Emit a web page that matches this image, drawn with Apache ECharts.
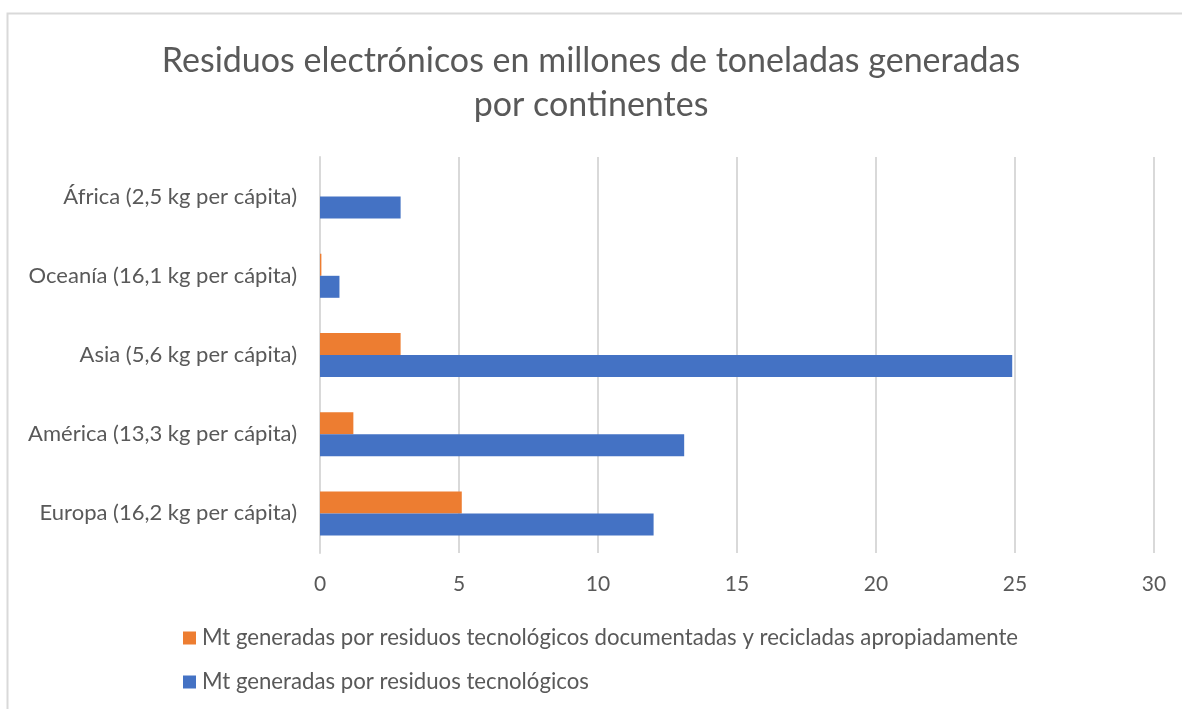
<!DOCTYPE html>
<html>
<head>
<meta charset="utf-8">
<script src="https://cdn.jsdelivr.net/npm/echarts@6/dist/echarts.min.js"></script>
<style>
	html, body { margin: 0; padding: 0; background: #fff; }
	#main { width: 1182px; height: 709px; }
</style>
</head>
<body>
<div id="main"></div>
<script>
var continentes = ["Europa (16,2 kg per cápita)", "América (13,3 kg per cápita)", "Asia (5,6 kg per cápita)", "Oceanía (16,1 kg per cápita)", "África (2,5 kg per cápita)"];
var totalGenerado = [12.0, 13.1, 24.9, 0.7, 2.9];
var reciclado = [5.1, 1.2, 2.9, 0.05, 0];
var ticksX = [0, 5, 10, 15, 20, 25, 30];

var nombreTotal = "Mt generadas por residuos tecnológicos";
var nombreReciclado = "Mt generadas por residuos tecnológicos documentadas y recicladas apropiadamente";
var fuente = "Lato, 'Open Sans', sans-serif";

var myChart = echarts.init(document.getElementById('main'));

var option = {
	backgroundColor: "#fff",
	textStyle: { fontFamily: fuente },
	graphic: [{
		type: "rect",
		shape: { x: 7.5, y: 13.5, width: 1200, height: 720 },
		style: { fill: "none", stroke: "#d9d9d9", lineWidth: 2 },
		silent: true
	}],
	title: {
		text: "Residuos electrónicos en millones de toneladas generadas\npor continentes",
		left: "center",
		top: 34,
		textStyle: {
			fontFamily: fuente,
			fontSize: 34,
			fontWeight: "normal",
			color: "#595959",
			lineHeight: 44
		}
	},
	legend: {
		orient: "vertical",
		left: 178,
		top: 622,
		itemGap: 22,
		itemWidth: 13,
		itemHeight: 13,
		icon: "rect",
		data: [nombreReciclado, nombreTotal],
		textStyle: { fontFamily: fuente, fontSize: 22.2, color: "#595959", padding: [0, 0, 0, 1] }
	},
	grid: {
		left: 320,
		right: 28,
		top: 157,
		bottom: 156,
		containLabel: false
	},
	xAxis: {
		type: "value",
		min: ticksX[0],
		max: ticksX[ticksX.length - 1],
		interval: 5,
		axisLine: { show: false },
		axisTick: { show: false },
		splitLine: { lineStyle: { color: "#d9d9d9", width: 2 } },
		axisLabel: { fontSize: 21, color: "#595959", margin: 21, fontFamily: fuente }
	},
	yAxis: {
		type: "category",
		data: continentes,
		axisLine: { show: true, lineStyle: { color: "#d9d9d9", width: 2 } },
		axisTick: { show: false },
		axisLabel: { fontSize: 22, color: "#595959", margin: 23, fontFamily: fuente }
	},
	series: [{
		name: nombreReciclado,
		type: "bar",
		data: reciclado,
		barWidth: 22,
		barGap: "0%",
		itemStyle: { color: "#ed7d31" }
	}, {
		name: nombreTotal,
		type: "bar",
		data: totalGenerado,
		barWidth: 22,
		barGap: "0%",
		itemStyle: { color: "#4472c4" }
	}]
};
myChart.setOption(option);
</script>
</body>
</html>
